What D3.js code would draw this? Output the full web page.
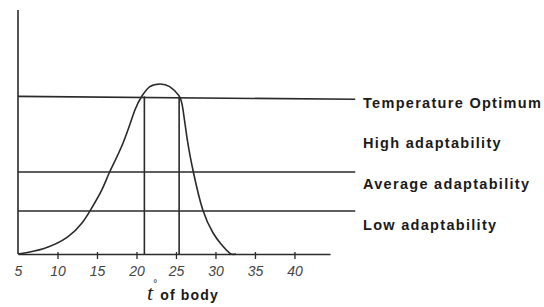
<!DOCTYPE html>
<html>
<head>
<meta charset="utf-8">
<script src="https://cdn.jsdelivr.net/npm/d3@7"></script>
<style>
  body { margin: 0; background: white; }
  svg { display: block; }
</style>
</head>
<body>
<div id="bigdiv"></div>
<script>
// tolerance curve (x = body temperature, y = arbitrary level)
var curveX = [5, 8.3, 11.3, 13.1, 14.1, 15.6, 16.6, 18.3, 19.8, 20.7, 21.7, 23, 24.2, 25.4, 25.9, 26.5, 27.2, 28.4, 29.7, 30.6, 31.8, 32.6]
var curveY = [0, 2.3, 7, 12.7, 17.6, 26.2, 33.6, 45.5, 59, 64.8, 68.6, 69.7, 68.6, 64.8, 59, 45.5, 33.6, 18, 8.6, 4.5, 0.4, 0]

var xTicks = [5, 10, 15, 20, 25, 30, 35, 40]

var levelNames = ['Temperature Optimum', 'High adaptability', 'Average adaptability', 'Low adaptability']
var levelLines = [64.6, null, 33.6, 17.6]   // High adaptability has no line
var levelLabelY = [60, 43.5, 26.5, 9.7]

var optimumEdges = [21, 25.4]

var W = 544, H = 307

let svg = d3.select('div#bigdiv').append('svg')
    .attr('width', W).attr('height', H)

let x = d3.scaleLinear().domain([5, 44.5]).range([18, 330])
let y = d3.scaleLinear().domain([0, 100]).range([254, 10])

let ink = '#2a2a2a'

// y axis
svg.append('line')
    .attr('x1', x(5)).attr('x2', x(5))
    .attr('y1', y(100)).attr('y2', y(0))
    .attr('stroke', ink).attr('stroke-width', 1.6)

// x axis
let xAxis = svg.append('g')
    .attr('transform', 'translate(0,' + y(0) + ')')
    .call(d3.axisBottom(x).tickValues(xTicks).tickSize(5).tickSizeOuter(0))

xAxis.select('path.domain').attr('stroke', ink).attr('stroke-width', 1.6)
xAxis.selectAll('.tick line').attr('stroke', ink).attr('stroke-width', 1.3).attr('y1', -2)
xAxis.selectAll('.tick text')
    .attr('y', 12)
    .attr('font-family', 'Liberation Sans, Arial, sans-serif')
    .attr('font-style', 'italic')
    .attr('font-size', 14)
    .attr('fill', '#444')
xAxis.selectAll('.tick').filter(d => d === 5).select('line').remove()

// horizontal level lines
let lines = levelLines.map((v, i) => ({ v: v, i: i })).filter(d => d.v !== null)
svg.selectAll('line.level')
    .data(lines)
    .enter()
    .append('line')
    .attr('class', 'level')
    .attr('x1', x(5))
    .attr('x2', x(47.7))
    .attr('y1', d => y(d.v))
    .attr('y2', d => d.i === 0 ? y(d.v - 1.2) : y(d.v))
    .attr('stroke', ink).attr('stroke-width', 1.6)

// vertical lines under the optimum
svg.selectAll('line.edge')
    .data(optimumEdges)
    .enter()
    .append('line')
    .attr('class', 'edge')
    .attr('x1', d => x(d)).attr('x2', d => x(d))
    .attr('y1', y(levelLines[0])).attr('y2', y(0))
    .attr('stroke', ink).attr('stroke-width', 1.6)

// the curve
let pts = curveX.map((v, i) => [v, curveY[i]])
svg.append('path')
    .datum(pts)
    .attr('d', d3.line().x(d => x(d[0])).y(d => y(d[1])).curve(d3.curveNatural))
    .attr('fill', 'none')
    .attr('stroke', ink).attr('stroke-width', 1.6)

// labels on the right
svg.selectAll('text.level')
    .data(levelNames)
    .enter()
    .append('text')
    .attr('class', 'level')
    .attr('x', 363)
    .attr('y', (d, i) => y(levelLabelY[i]))
    .attr('font-family', 'Liberation Sans, Arial, sans-serif')
    .attr('font-weight', 'bold')
    .attr('font-size', 14.5)
    .attr('letter-spacing', 1.3)
    .attr('fill', '#1a1a1a')
    .text(d => d)

// x axis title
let title = svg.append('text')
    .attr('x', 147).attr('y', 300)
    .attr('fill', '#1a1a1a')
title.append('tspan')
    .attr('font-family', 'Liberation Serif, serif')
    .attr('font-style', 'italic')
    .attr('font-size', 22)
    .text('t')
title.append('tspan')
    .attr('dy', -13).attr('dx', 0)
    .attr('font-family', 'Liberation Sans, sans-serif')
    .attr('font-size', 10)
    .text('°')
title.append('tspan')
    .attr('dy', 13).attr('dx', 3)
    .attr('font-family', 'Liberation Sans, Arial, sans-serif')
    .attr('font-weight', 'bold')
    .attr('font-size', 14)
    .attr('letter-spacing', 1.2)
    .text('of body')
</script>
</body>
</html>
